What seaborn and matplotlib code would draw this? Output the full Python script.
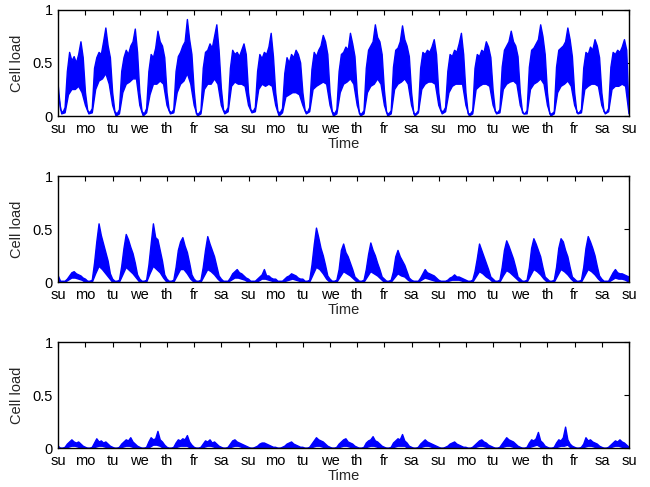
import numpy as np
import pandas as pd
import matplotlib
matplotlib.use("Agg")
import matplotlib.pyplot as plt
import seaborn as sns

# day names for the 3 weeks (ticks at midnight)
day_labels = ["su", "mo", "tu", "we", "th", "fr", "sa"] * 3 + ["su"]

# upper edge of the load band: every 2 hours (00..22), one row per day, last value = final midnight
# lower edge: every 3 hours (00..21)

# cell 1: busy cell
cell1_upper = [
    0.28, 0.06, 0.03, 0.08, 0.42, 0.60, 0.52, 0.56, 0.50, 0.58, 0.70, 0.55,
    0.22, 0.05, 0.03, 0.07, 0.45, 0.55, 0.60, 0.58, 0.70, 0.83, 0.66, 0.55,
    0.22, 0.04, 0.02, 0.06, 0.42, 0.55, 0.62, 0.58, 0.66, 0.70, 0.82, 0.60,
    0.22, 0.04, 0.02, 0.07, 0.42, 0.58, 0.55, 0.64, 0.80, 0.70, 0.66, 0.55,
    0.22, 0.05, 0.03, 0.06, 0.42, 0.56, 0.60, 0.66, 0.70, 0.91, 0.72, 0.58,
    0.24, 0.02, 0.02, 0.05, 0.45, 0.60, 0.62, 0.68, 0.64, 0.75, 0.86, 0.62,
    0.26, 0.05, 0.04, 0.08, 0.45, 0.62, 0.58, 0.60, 0.56, 0.62, 0.68, 0.58,
    0.22, 0.06, 0.04, 0.08, 0.42, 0.58, 0.54, 0.60, 0.58, 0.65, 0.78, 0.56,
    0.22, 0.04, 0.03, 0.07, 0.40, 0.55, 0.50, 0.58, 0.55, 0.62, 0.58, 0.50,
    0.22, 0.05, 0.03, 0.08, 0.44, 0.60, 0.56, 0.62, 0.66, 0.76, 0.70, 0.58,
    0.22, 0.04, 0.02, 0.06, 0.42, 0.58, 0.60, 0.65, 0.62, 0.78, 0.68, 0.56,
    0.22, 0.02, 0.02, 0.05, 0.45, 0.62, 0.66, 0.70, 0.86, 0.74, 0.70, 0.58,
    0.24, 0.03, 0.02, 0.05, 0.46, 0.62, 0.64, 0.70, 0.85, 0.72, 0.66, 0.56,
    0.22, 0.02, 0.02, 0.05, 0.45, 0.60, 0.58, 0.62, 0.60, 0.65, 0.72, 0.58,
    0.22, 0.05, 0.04, 0.08, 0.42, 0.58, 0.56, 0.62, 0.60, 0.68, 0.78, 0.58,
    0.22, 0.02, 0.02, 0.05, 0.45, 0.58, 0.56, 0.62, 0.60, 0.70, 0.65, 0.55,
    0.24, 0.04, 0.03, 0.06, 0.46, 0.62, 0.66, 0.70, 0.80, 0.70, 0.66, 0.56,
    0.22, 0.03, 0.02, 0.05, 0.46, 0.62, 0.64, 0.68, 0.72, 0.86, 0.75, 0.58,
    0.22, 0.02, 0.02, 0.04, 0.46, 0.62, 0.64, 0.66, 0.70, 0.83, 0.72, 0.56,
    0.22, 0.03, 0.03, 0.06, 0.45, 0.60, 0.58, 0.65, 0.62, 0.72, 0.66, 0.55,
    0.22, 0.04, 0.03, 0.07, 0.46, 0.60, 0.58, 0.62, 0.60, 0.65, 0.72, 0.62,
    0.05,
]
cell1_lower = [
    0.20, 0.02, 0.03, 0.20, 0.25, 0.25, 0.28, 0.22,
    0.10, 0.02, 0.03, 0.25, 0.33, 0.35, 0.40, 0.30,
    0.10, 0.00, 0.02, 0.22, 0.30, 0.32, 0.35, 0.35,
    0.10, 0.00, 0.03, 0.20, 0.30, 0.30, 0.33, 0.30,
    0.10, 0.02, 0.03, 0.22, 0.30, 0.33, 0.40, 0.30,
    0.10, 0.00, 0.02, 0.25, 0.30, 0.30, 0.35, 0.30,
    0.10, 0.02, 0.04, 0.28, 0.32, 0.30, 0.30, 0.28,
    0.10, 0.03, 0.04, 0.25, 0.30, 0.28, 0.30, 0.28,
    0.10, 0.00, 0.03, 0.18, 0.20, 0.22, 0.22, 0.20,
    0.10, 0.02, 0.04, 0.25, 0.28, 0.30, 0.32, 0.30,
    0.10, 0.00, 0.02, 0.22, 0.30, 0.32, 0.35, 0.30,
    0.10, 0.00, 0.02, 0.22, 0.28, 0.30, 0.35, 0.30,
    0.10, 0.00, 0.02, 0.25, 0.30, 0.32, 0.35, 0.30,
    0.10, 0.00, 0.03, 0.25, 0.30, 0.32, 0.32, 0.30,
    0.10, 0.02, 0.04, 0.22, 0.28, 0.30, 0.30, 0.30,
    0.10, 0.00, 0.02, 0.25, 0.28, 0.30, 0.30, 0.28,
    0.10, 0.02, 0.03, 0.25, 0.30, 0.32, 0.33, 0.30,
    0.10, 0.02, 0.02, 0.25, 0.30, 0.32, 0.35, 0.30,
    0.10, 0.00, 0.02, 0.22, 0.28, 0.30, 0.33, 0.28,
    0.10, 0.02, 0.03, 0.25, 0.28, 0.30, 0.30, 0.28,
    0.10, 0.02, 0.04, 0.25, 0.28, 0.28, 0.30, 0.28,
    0.02,
]

# cell 2: office-like cell, busy on weekdays only
cell2_upper = [
    0.06, 0.01, 0.01, 0.01, 0.03, 0.06, 0.09, 0.10, 0.08, 0.07, 0.06, 0.04,
    0.03, 0.01, 0.01, 0.02, 0.18, 0.38, 0.55, 0.44, 0.36, 0.28, 0.20, 0.08,
    0.03, 0.01, 0.01, 0.02, 0.15, 0.32, 0.45, 0.40, 0.33, 0.27, 0.18, 0.07,
    0.03, 0.01, 0.01, 0.02, 0.16, 0.36, 0.55, 0.42, 0.40, 0.30, 0.20, 0.07,
    0.03, 0.01, 0.01, 0.02, 0.14, 0.30, 0.38, 0.42, 0.34, 0.28, 0.18, 0.07,
    0.03, 0.01, 0.01, 0.02, 0.14, 0.30, 0.43, 0.36, 0.30, 0.24, 0.15, 0.06,
    0.03, 0.01, 0.01, 0.01, 0.04, 0.08, 0.10, 0.12, 0.09, 0.08, 0.06, 0.04,
    0.03, 0.01, 0.01, 0.01, 0.03, 0.05, 0.07, 0.12, 0.06, 0.06, 0.04, 0.03,
    0.03, 0.01, 0.01, 0.01, 0.03, 0.05, 0.06, 0.08, 0.07, 0.06, 0.04, 0.03,
    0.03, 0.01, 0.01, 0.02, 0.16, 0.35, 0.51, 0.42, 0.32, 0.25, 0.16, 0.06,
    0.03, 0.01, 0.01, 0.02, 0.12, 0.30, 0.36, 0.28, 0.24, 0.18, 0.12, 0.05,
    0.03, 0.01, 0.01, 0.02, 0.12, 0.26, 0.37, 0.30, 0.25, 0.18, 0.12, 0.05,
    0.03, 0.01, 0.01, 0.02, 0.10, 0.24, 0.30, 0.24, 0.20, 0.16, 0.10, 0.04,
    0.02, 0.01, 0.01, 0.01, 0.04, 0.08, 0.12, 0.09, 0.08, 0.07, 0.06, 0.04,
    0.02, 0.01, 0.01, 0.01, 0.02, 0.04, 0.05, 0.07, 0.05, 0.05, 0.04, 0.03,
    0.02, 0.01, 0.01, 0.02, 0.10, 0.22, 0.36, 0.30, 0.24, 0.18, 0.12, 0.05,
    0.03, 0.01, 0.01, 0.02, 0.14, 0.30, 0.39, 0.34, 0.28, 0.22, 0.14, 0.05,
    0.03, 0.01, 0.01, 0.02, 0.14, 0.32, 0.41, 0.36, 0.30, 0.24, 0.14, 0.05,
    0.03, 0.01, 0.01, 0.02, 0.14, 0.32, 0.41, 0.38, 0.30, 0.24, 0.14, 0.05,
    0.03, 0.01, 0.01, 0.02, 0.14, 0.32, 0.43, 0.38, 0.32, 0.25, 0.15, 0.06,
    0.03, 0.01, 0.01, 0.01, 0.05, 0.09, 0.12, 0.09, 0.08, 0.08, 0.07, 0.06,
    0.05,
]
cell2_lower = [
    0.00, 0.00, 0.00, 0.02, 0.04, 0.04, 0.03, 0.02,
    0.00, 0.00, 0.00, 0.08, 0.15, 0.12, 0.08, 0.04,
    0.00, 0.00, 0.00, 0.07, 0.14, 0.11, 0.08, 0.04,
    0.00, 0.00, 0.00, 0.08, 0.15, 0.12, 0.09, 0.04,
    0.00, 0.00, 0.00, 0.06, 0.12, 0.12, 0.08, 0.03,
    0.00, 0.00, 0.00, 0.06, 0.12, 0.10, 0.07, 0.03,
    0.00, 0.00, 0.00, 0.02, 0.04, 0.04, 0.03, 0.02,
    0.00, 0.00, 0.00, 0.01, 0.03, 0.03, 0.02, 0.01,
    0.00, 0.00, 0.00, 0.01, 0.02, 0.03, 0.02, 0.01,
    0.00, 0.00, 0.00, 0.07, 0.14, 0.12, 0.08, 0.03,
    0.00, 0.00, 0.00, 0.05, 0.10, 0.08, 0.06, 0.03,
    0.00, 0.00, 0.00, 0.05, 0.10, 0.08, 0.06, 0.03,
    0.00, 0.00, 0.00, 0.04, 0.08, 0.06, 0.05, 0.02,
    0.00, 0.00, 0.00, 0.02, 0.04, 0.03, 0.02, 0.01,
    0.00, 0.00, 0.00, 0.01, 0.02, 0.02, 0.02, 0.01,
    0.00, 0.00, 0.00, 0.05, 0.10, 0.08, 0.05, 0.03,
    0.00, 0.00, 0.00, 0.06, 0.11, 0.09, 0.06, 0.03,
    0.00, 0.00, 0.00, 0.06, 0.12, 0.10, 0.07, 0.03,
    0.00, 0.00, 0.00, 0.06, 0.12, 0.10, 0.07, 0.03,
    0.00, 0.00, 0.00, 0.06, 0.12, 0.10, 0.07, 0.03,
    0.00, 0.00, 0.00, 0.02, 0.04, 0.03, 0.03, 0.02,
    0.00,
]

# cell 3: almost idle cell
cell3_upper = [
    0.02, 0.00, 0.00, 0.01, 0.04, 0.06, 0.08, 0.06, 0.05, 0.06, 0.04, 0.02,
    0.01, 0.00, 0.00, 0.01, 0.05, 0.09, 0.06, 0.07, 0.05, 0.06, 0.04, 0.02,
    0.01, 0.00, 0.00, 0.01, 0.04, 0.06, 0.08, 0.07, 0.10, 0.06, 0.04, 0.02,
    0.01, 0.00, 0.00, 0.01, 0.06, 0.10, 0.08, 0.09, 0.16, 0.08, 0.06, 0.03,
    0.01, 0.00, 0.00, 0.01, 0.05, 0.08, 0.07, 0.09, 0.08, 0.12, 0.06, 0.03,
    0.01, 0.00, 0.00, 0.01, 0.04, 0.07, 0.06, 0.08, 0.05, 0.06, 0.04, 0.02,
    0.01, 0.00, 0.00, 0.01, 0.04, 0.07, 0.08, 0.06, 0.05, 0.04, 0.03, 0.02,
    0.01, 0.00, 0.00, 0.01, 0.02, 0.04, 0.05, 0.05, 0.04, 0.03, 0.02, 0.01,
    0.01, 0.00, 0.00, 0.01, 0.02, 0.04, 0.05, 0.06, 0.04, 0.03, 0.02, 0.01,
    0.01, 0.00, 0.00, 0.01, 0.04, 0.07, 0.10, 0.08, 0.07, 0.06, 0.04, 0.02,
    0.01, 0.00, 0.00, 0.01, 0.04, 0.06, 0.08, 0.09, 0.06, 0.05, 0.04, 0.02,
    0.01, 0.00, 0.00, 0.01, 0.05, 0.07, 0.08, 0.11, 0.07, 0.06, 0.04, 0.02,
    0.01, 0.00, 0.00, 0.01, 0.05, 0.07, 0.09, 0.08, 0.13, 0.07, 0.05, 0.02,
    0.01, 0.00, 0.00, 0.01, 0.04, 0.06, 0.08, 0.06, 0.05, 0.04, 0.03, 0.02,
    0.01, 0.00, 0.00, 0.01, 0.02, 0.04, 0.05, 0.06, 0.04, 0.03, 0.02, 0.01,
    0.01, 0.00, 0.00, 0.01, 0.03, 0.05, 0.07, 0.08, 0.06, 0.05, 0.03, 0.02,
    0.01, 0.00, 0.00, 0.01, 0.04, 0.07, 0.10, 0.08, 0.07, 0.06, 0.04, 0.02,
    0.01, 0.00, 0.00, 0.01, 0.05, 0.08, 0.07, 0.09, 0.15, 0.07, 0.05, 0.02,
    0.01, 0.00, 0.00, 0.01, 0.05, 0.08, 0.07, 0.10, 0.20, 0.08, 0.04, 0.02,
    0.01, 0.00, 0.00, 0.01, 0.04, 0.10, 0.07, 0.08, 0.06, 0.05, 0.04, 0.02,
    0.01, 0.00, 0.00, 0.01, 0.03, 0.05, 0.07, 0.06, 0.08, 0.06, 0.05, 0.03,
    0.01,
]
cell3_lower = [
    0.00, 0.00, 0.00, 0.01, 0.02, 0.02, 0.01, 0.00,
    0.00, 0.00, 0.00, 0.01, 0.02, 0.02, 0.01, 0.00,
    0.00, 0.00, 0.00, 0.01, 0.02, 0.02, 0.01, 0.00,
    0.00, 0.00, 0.00, 0.01, 0.03, 0.03, 0.02, 0.00,
    0.00, 0.00, 0.00, 0.01, 0.02, 0.02, 0.02, 0.00,
    0.00, 0.00, 0.00, 0.01, 0.02, 0.02, 0.01, 0.00,
    0.00, 0.00, 0.00, 0.01, 0.02, 0.02, 0.01, 0.00,
    0.00, 0.00, 0.00, 0.01, 0.01, 0.01, 0.01, 0.00,
    0.00, 0.00, 0.00, 0.01, 0.01, 0.01, 0.01, 0.00,
    0.00, 0.00, 0.00, 0.01, 0.02, 0.02, 0.01, 0.00,
    0.00, 0.00, 0.00, 0.01, 0.02, 0.02, 0.01, 0.00,
    0.00, 0.00, 0.00, 0.01, 0.02, 0.02, 0.01, 0.00,
    0.00, 0.00, 0.00, 0.01, 0.02, 0.02, 0.02, 0.00,
    0.00, 0.00, 0.00, 0.01, 0.02, 0.02, 0.01, 0.00,
    0.00, 0.00, 0.00, 0.01, 0.01, 0.01, 0.01, 0.00,
    0.00, 0.00, 0.00, 0.01, 0.02, 0.02, 0.01, 0.00,
    0.00, 0.00, 0.00, 0.01, 0.02, 0.02, 0.01, 0.00,
    0.00, 0.00, 0.00, 0.01, 0.02, 0.03, 0.01, 0.00,
    0.00, 0.00, 0.00, 0.01, 0.02, 0.02, 0.03, 0.00,
    0.00, 0.00, 0.00, 0.01, 0.02, 0.02, 0.01, 0.00,
    0.00, 0.00, 0.00, 0.01, 0.02, 0.02, 0.01, 0.00,
    0.00,
]

sns.set_theme(style="white")
plt.rcParams["font.family"] = ["Liberation Sans", "DejaVu Sans"]

fig = plt.figure(figsize=(6.5, 4.87), dpi=100)
# axes boxes in figure fractions (left, bottom, width, height)
boxes = [
    [0.0897, 0.7618, 0.878, 0.2177],
    [0.0897, 0.4203, 0.878, 0.2183],
    [0.0897, 0.0794, 0.878, 0.2177],
]
cells = [(cell1_upper, cell1_lower), (cell2_upper, cell2_lower), (cell3_upper, cell3_lower)]

for box, (up, lo) in zip(boxes, cells):
    ax = fig.add_axes(box)
    up_df = pd.DataFrame({"t": np.arange(len(up)) / 12.0, "load": up})
    lo_df = pd.DataFrame({"t": np.arange(len(lo)) / 8.0, "load": lo})

    # band between the two edges as one polygon
    px = np.concatenate([up_df["t"].values, lo_df["t"].values[::-1]])
    py = np.concatenate([up_df["load"].values, lo_df["load"].values[::-1]])
    ax.fill(px, py, color="#0000ff", lw=0)
    sns.lineplot(data=up_df, x="t", y="load", ax=ax, color="#0000ff", lw=1.0)
    sns.lineplot(data=lo_df, x="t", y="load", ax=ax, color="#0000ff", lw=1.0)

    ax.set_xlim(0, 21)
    ax.set_ylim(0, 1)
    ax.set_xticks(range(22))
    ax.set_xticklabels(day_labels)
    ax.set_yticks([0, 0.5, 1])
    ax.set_yticklabels(["0", "0.5", "1"])
    ax.tick_params(direction="in", length=3.5, width=0.8, top=True, right=True,
                   labelsize=10.5, colors="black", pad=4)
    for sp in ax.spines.values():
        sp.set_color("black")
        sp.set_linewidth(1.0)
    ax.set_xlabel("Time", fontsize=10.5, labelpad=1)
    ax.set_ylabel("Cell load", fontsize=10.5, labelpad=6)
    ax.grid(False)

plt.savefig("out.png", dpi=100)
